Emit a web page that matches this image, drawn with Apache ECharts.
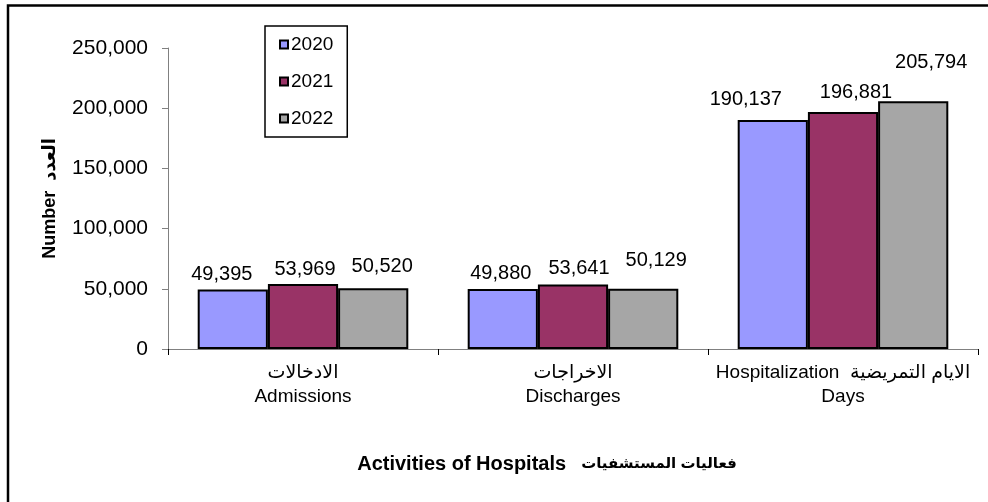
<!DOCTYPE html>
<html>
<head>
<meta charset="utf-8">
<script src="https://cdn.jsdelivr.net/npm/echarts@6/dist/echarts.min.js"></script>
<style>
  html, body { margin: 0; padding: 0; background: #fff; }
  #chart { width: 988px; height: 502px; }
</style>
</head>
<body>
<div id="chart"></div>
<script>
// data
const categories = ['الادخالات\nAdmissions', 'الاخراجات\nDischarges', 'Hospitalization  الايام التمريضية\nDays'];
const years = ['2020', '2021', '2022'];
const values2020 = [49395, 49880, 190137];
const values2021 = [53969, 53641, 196881];
const values2022 = [50520, 50129, 205794];
const yTicks = [0, 50000, 100000, 150000, 200000, 250000];

const font = "'Liberation Sans', Arial, 'DejaVu Sans', sans-serif";
const colors = ['#9999ff', '#993366', '#a6a6a6'];
const fmt = v => Number(v).toLocaleString('en-US');

// label nudges (the original labels were hand placed)
const labelShift = {
  '2020': [[-11, 0], [-2, 0], [-27, -6]],
  '2021': [[2, 0], [6, -1], [13, -4]],
  '2022': [[9, -7], [13, -13], [18, -24]]
};

function makeSeries(name, data, i) {
  return {
    name: name,
    type: 'bar',
    data: data.map((v, k) => ({
      value: v,
      label: { offset: labelShift[name][k] }
    })),
    barGap: 0,
    barCategoryGap: '22%',
    itemStyle: { color: colors[i], borderColor: '#000', borderWidth: 2 },
    label: {
      show: true,
      position: 'top',
      distance: 5,
      color: '#000',
      fontFamily: font,
      fontSize: 20,
      formatter: p => fmt(p.value)
    }
  };
}

const chart = echarts.init(document.getElementById('chart'));
chart.setOption({
  animation: false,
  textStyle: { fontFamily: font },
  grid: { left: 168, right: 10, top: 48, bottom: 153, containLabel: false },
  legend: {
    data: years,
    orient: 'vertical',
    left: 265,
    top: 26,
    itemWidth: 8,
    itemHeight: 8,
    itemGap: 18,
    icon: 'rect',
    padding: [9, 14, 9, 14],
    borderColor: '#000',
    borderWidth: 1.5,
    textStyle: { color: '#000', fontSize: 19, lineHeight: 19, fontFamily: font, padding: [0, 0, 0, -2] }
  },
  xAxis: {
    type: 'category',
    data: categories,
    axisLine: { lineStyle: { color: '#808080', width: 1 } },
    axisTick: { show: true, interval: 0, length: 6, lineStyle: { color: '#000' } },
    axisLabel: {
      color: '#000',
      fontSize: 19,
      lineHeight: 24,
      margin: 12,
      fontFamily: font,
      interval: 0
    }
  },
  yAxis: {
    type: 'value',
    min: yTicks[0],
    max: yTicks[yTicks.length - 1],
    interval: yTicks[1] - yTicks[0],
    name: 'Number  العدد',
    nameLocation: 'middle',
    nameGap: 109,
    nameTextStyle: { color: '#000', fontSize: 18, fontWeight: 'bold', fontFamily: font },
    axisLine: { show: true, lineStyle: { color: '#808080', width: 1 } },
    axisTick: { show: true, length: 6, lineStyle: { color: '#808080' } },
    splitLine: { show: false },
    axisLabel: {
      color: '#000',
      fontSize: 21,
      margin: 20,
      fontFamily: font,
      formatter: v => fmt(v)
    }
  },
  graphic: [
    {
      type: 'rect',
      shape: { x: 8, y: 5.5, width: 1200, height: 800 },
      style: { fill: 'none', stroke: '#000', lineWidth: 2.5 },
      silent: true
    },
    {
      type: 'text',
      style: {
        x: 547,
        y: 464,
        text: '{en|Activities of Hospitals}{ar|فعاليات المستشفيات}',
        textAlign: 'center',
        textVerticalAlign: 'middle',
        fill: '#000',
        rich: {
          en: { fontSize: 20, fontWeight: 'bold', fontFamily: font, fill: '#000' },
          ar: { fontSize: 15, fontWeight: 'bold', fontFamily: font, fill: '#000', padding: [0, 0, 0, 15] }
        }
      }
    }
  ],
  series: [
    makeSeries('2020', values2020, 0),
    makeSeries('2021', values2021, 1),
    makeSeries('2022', values2022, 2)
  ]
});
</script>
</body>
</html>
